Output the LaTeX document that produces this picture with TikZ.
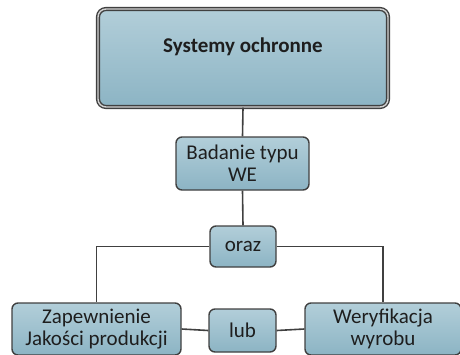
\documentclass[tikz,border=0pt]{standalone}
\usepackage{fontspec}
\setmainfont{Carlito}
\definecolor{boxtop}{RGB}{178,206,217}
\definecolor{boxbot}{RGB}{140,180,196}
\definecolor{lineg}{RGB}{64,64,64}
\definecolor{txt}{RGB}{30,30,30}
\tikzset{
  box/.style={draw=lineg, line width=1.4pt, rounded corners=6pt,
    top color=boxtop, bottom color=boxbot, text=txt, align=center,
    inner sep=1pt, font=\fontsize{21}{22}\selectfont},
  link/.style={draw=lineg, line width=1.6pt}
}
\begin{document}
\begin{tikzpicture}[x=1pt, y=-1pt]
  \useasboundingbox (0,0) rectangle (460,354);
  % top level
  \node[box, rounded corners=8pt, double=gray!35, double distance=1.4pt,
    minimum width=290pt, minimum height=98pt] (ochrona) at (243,58) {};
  \node[text=txt, font=\fontsize{21}{22}\selectfont\bfseries] (tytul) at (243,47) {Systemy ochronne};

  % middle
  \node[box, minimum width=133pt, minimum height=53pt] (badanie) at (242.5,163.5) {Badanie typu\\WE};
  \node[box, minimum width=66pt, minimum height=41pt] (oraz) at (243,246.5) {oraz};

  % bottom row
  \node[box, minimum width=169pt, minimum height=52pt] (jakosc) at (96.5,329) {Zapewnienie\\Jakości produkcji};
  \node[box, minimum width=67pt, minimum height=43pt] (lub) at (242.5,330.5) {lub};
  \node[box, minimum width=156pt, minimum height=52pt] (wyrob) at (383,329) {Weryfikacja\\wyrobu};

  % links
  \draw[link] (ochrona.south) -- (badanie.north);
  \draw[link] (badanie.south) -- (oraz.north);
  \draw[link] (oraz.west) -| (jakosc.north);
  \draw[link] (oraz.east) -| (wyrob.north);
  \draw[link] (jakosc.east) -- (lub.west);
  \draw[link] (lub.east) -- (wyrob.west);
\end{tikzpicture}
\end{document}
